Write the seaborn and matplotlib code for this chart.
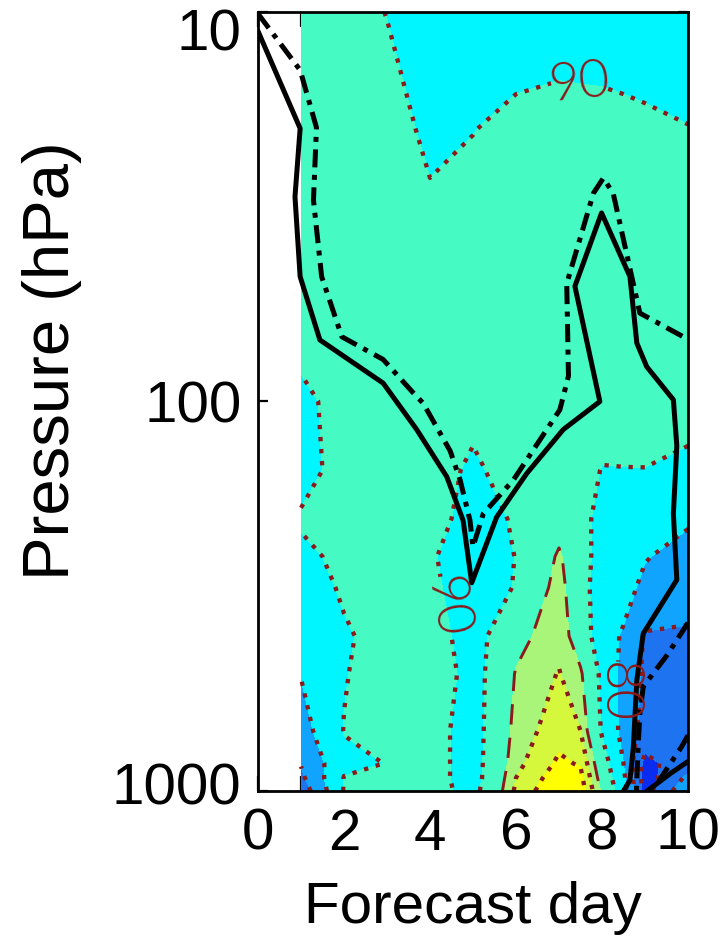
import matplotlib
matplotlib.use("Agg")
import numpy as np
import matplotlib.pyplot as plt
import seaborn as sns
from matplotlib.colors import ListedColormap, BoundaryNorm
from matplotlib.ticker import NullLocator
from matplotlib.transforms import ScaledTranslation

# ---------------------------------------------------------------------------
# Score field: rows are pressure levels (hPa), columns are forecast days
# ---------------------------------------------------------------------------
days = [1, 2, 3, 4, 5, 6, 7, 7.5, 8, 8.5, 9, 10]
pressure = [10, 20, 30, 50, 70, 100, 150, 200, 250, 300, 400, 500, 700, 850, 925, 1000]

score_p10 = [95, 93, 89.8, 85, 84, 85, 86, 85.5, 85, 85, 85, 85]
score_p20 = [96, 95, 94, 88, 89.7, 93, 94, 94, 94, 93, 92, 90.3]
score_p30 = [96, 96, 95, 91, 94, 95, 95, 95, 95, 95, 94, 93]
score_p50 = [96, 96, 96, 95, 95, 96, 96, 96, 96, 96, 95, 95]
score_p70 = [92, 96, 96, 96, 96, 96, 96, 96, 96, 96, 96, 95]
score_p100 = [88, 93, 96, 96, 93, 96, 96, 96, 95, 95, 94, 93]
score_p150 = [87, 93, 96, 95, 88, 95, 97, 95, 89.5, 89.7, 89.8, 88]
score_p200 = [91, 94, 96, 94, 86, 91, 97, 93, 87, 87, 86, 81]
score_p250 = [88, 92, 95, 91, 85, 90.2, 101, 94, 86, 85, 80.5, 77]
score_p300 = [86, 91, 95, 92, 85, 90.5, 103, 93, 86, 83, 78, 76]
score_p400 = [83, 89, 93, 94, 86, 97.9, 103.5, 96, 84, 79, 69, 68]
score_p500 = [80.3, 89.5, 94, 96.8, 86, 100.5, 105.3, 101, 88, 77, 68.5, 66]
score_p700 = [76, 90.3, 93, 93.5, 86, 102, 108, 105, 89, 77, 66, 65]
score_p850 = [70.5, 88, 90.2, 93.5, 86, 103.5, 111, 109.5, 95, 80, 57, 66]
score_p925 = [68, 90.3, 93, 93.5, 86, 105, 113, 111.5, 97, 82, 55, 72]
score_p1000 = [64, 90.5, 93, 93.5, 87, 106, 115, 113, 99, 84, 56, 78]

fill_levels = [30, 60, 70, 80, 90, 100, 105, 110, 130]
dotted_levels = [60, 70, 105, 110]

# Significance boundaries (solid and dash-dot curves)
solid_a_day = [0, 0.98, 0.86, 0.98, 1.44, 2.91, 3.69, 4.39, 4.77, 4.97, 5.55, 6.25,
               7.10, 7.95, 7.37, 7.99, 8.65, 8.81, 9.04, 9.66, 9.74, 9.66, 9.74,
               8.96, 8.81, 8.73, 8.65, 8.50]
solid_a_p = [11.2, 19.9, 29.8, 47.8, 69.5, 89.7, 118, 156, 202, 292, 198, 153,
             118, 100, 50.6, 32.8, 47.8, 70.8, 81.4, 99, 130, 194, 287,
             394, 519, 770, 938, 1000]
solid_b_day = [10.0, 9.6, 9.05]
solid_b_p = [840, 900, 1000]

dashdot_a_day = [0, 0.98, 1.36, 1.29, 1.48, 1.95, 2.91, 3.61, 3.84, 4.47, 4.70, 4.93,
                 5.00, 5.24, 5.94, 7.02, 7.22, 7.18, 7.80, 8.03, 8.26, 8.88, 9.89, 10.0]
dashdot_a_p = [10.1, 14.1, 19.8, 30.4, 47.8, 68.2, 78, 95, 101, 134, 159, 202,
               236, 194, 159, 105, 86, 49.8, 29.2, 26.7, 29.2, 59.3, 68.2, 69]
dashdot_b_day = [10.0, 9.5, 8.96, 8.88, 8.84, 8.80]
dashdot_b_p = [370, 450, 539, 633, 770, 1000]
dashdot_c_day = [10.0, 9.85, 9.5, 9.2]
dashdot_c_p = [720, 770, 880, 990]

x_ticks = [0, 2, 4, 6, 8, 10]
y_ticks = [10, 100, 1000]
y_tick_labels = ["10", "100", "1000"]

# ---------------------------------------------------------------------------
sns.set_theme(style="ticks")
plt.rcParams["font.family"] = ["Liberation Sans", "DejaVu Sans"]
plt.rcParams.update({"text.color": "black", "axes.labelcolor": "black",
                     "xtick.color": "black", "ytick.color": "black",
                     "axes.edgecolor": "black"})

score = np.array([score_p10, score_p20, score_p30, score_p50, score_p70, score_p100,
                  score_p150, score_p200, score_p250, score_p300, score_p400,
                  score_p500, score_p700, score_p850, score_p925, score_p1000])

band_colors = ["#0a2cf0", "#1e74f0", "#10a4ff", "#00f6ff", "#45fac3",
               "#a8f57a", "#d6f83c", "#ffff00"]
cmap = ListedColormap(band_colors)
norm = BoundaryNorm(fill_levels, cmap.N)

fig = plt.figure(figsize=(7.27, 9.46), dpi=100)
ax = fig.add_axes([258 / 727, 1 - 791 / 946, 430 / 727, 779 / 946])
ax.set_yscale("log")

ax.contourf(days, pressure, score, levels=fill_levels, cmap=cmap, norm=norm)

brown = "#8b1a1a"
dotted = (0, (1, 1.8))
dashed = (0, (7, 4.5))

ax.contour(days, pressure, score, levels=dotted_levels, colors=brown,
           linewidths=3.1, linestyles=[dotted])
ax.contour(days, pressure, score, levels=[100], colors=brown,
           linewidths=2.1, linestyles=[dashed])
cs90 = ax.contour(days, pressure, score, levels=[90], colors=brown,
                  linewidths=3.1, linestyles=[dotted])
cs80 = ax.contour(days, pressure, score, levels=[80], colors=brown,
                  linewidths=3.1, linestyles=[dotted])

lab90 = cs90.clabel(manual=[(7.5, 14.6), (4.3, 340)], fmt="%d",
                    fontsize=38, inline=True, inline_spacing=3, colors=brown)
lab80 = cs80.clabel(manual=[(8.4, 560)], fmt="%d",
                    fontsize=38, inline=True, inline_spacing=3, colors=brown)
for t in list(lab90) + list(lab80):
    t.set_fontfamily(["Lato", "DejaVu Sans"])
    t.set_fontweight(300)
    t.set_color(brown)
if len(lab90) > 1:
    lab90[1].set_transform_rotates_text(False)
    lab90[1].set_rotation(-80)
if len(lab80) > 0:
    lab80[0].set_transform_rotates_text(False)
    lab80[0].set_rotation(-90)

# significance curves
dashdot = (0, (3.6, 1.5, 1.0, 1.5))
sns.lineplot(x=solid_a_day, y=solid_a_p, sort=False, estimator=None,
             color="black", lw=3.6, ax=ax)
sns.lineplot(x=solid_b_day, y=solid_b_p, sort=False, estimator=None,
             color="black", lw=3.6, ax=ax)
for xd, yp in [(dashdot_a_day, dashdot_a_p), (dashdot_b_day, dashdot_b_p),
               (dashdot_c_day, dashdot_c_p)]:
    sns.lineplot(x=xd, y=yp, sort=False, estimator=None, color="black",
                 lw=3.6, linestyle=dashdot, ax=ax)

ax.set_xlim(0, 10)
ax.set_ylim(1000, 10)
ax.set_facecolor("white")

ax.set_xticks(x_ticks)
ax.set_xticks([1, 3, 5, 7, 9], minor=True)
ax.set_xticklabels([str(v) for v in x_ticks])
ax.tick_params(axis="x", which="both", direction="in", top=True, bottom=True,
               length=11, width=1.6, color="black", labelcolor="black",
               labelsize=42, pad=12)
ax.set_yticks(y_ticks)
ax.set_yticklabels(y_tick_labels)
ax.yaxis.set_minor_locator(NullLocator())
ax.tick_params(axis="y", which="major", direction="in", left=True, right=True,
               length=7, width=1.6, color="black", labelcolor="black",
               labelsize=42, pad=12)

ylabs = ax.get_yticklabels()
ylabs[0].set_transform(ylabs[0].get_transform() + ScaledTranslation(0, -0.18, fig.dpi_scale_trans))
ylabs[2].set_transform(ylabs[2].get_transform() + ScaledTranslation(0, 0.08, fig.dpi_scale_trans))

for sp in ax.spines.values():
    sp.set_linewidth(2.0)
    sp.set_color("black")
    sp.set_zorder(5)

ax.set_xlabel("Forecast day", fontsize=42, color="black")
ax.set_ylabel("Pressure (hPa)", fontsize=47, color="black")
ax.xaxis.set_label_coords(0.5, -0.115)
ax.yaxis.set_label_coords(-0.41, 0.553)
ax.grid(False)

fig.savefig("out.png", dpi=100)
